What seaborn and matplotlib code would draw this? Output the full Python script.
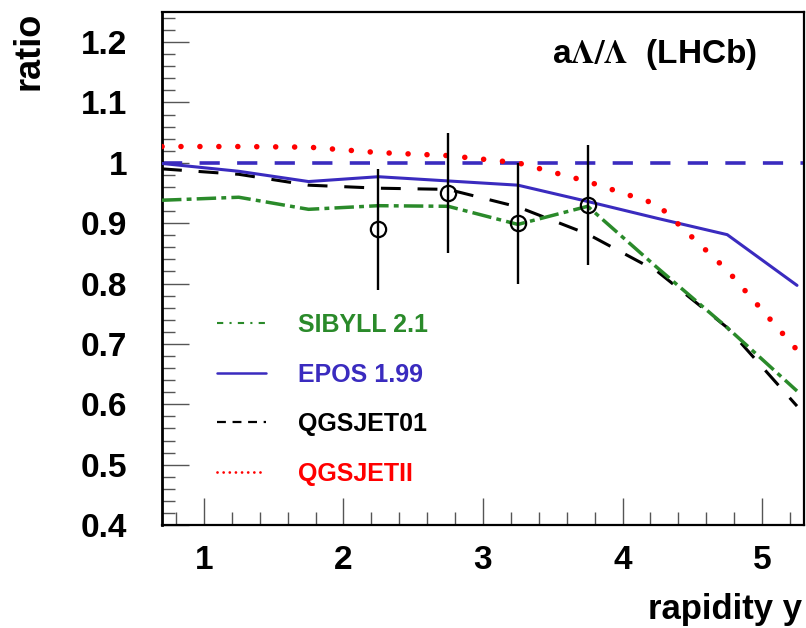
import matplotlib
matplotlib.use("Agg")
import matplotlib.pyplot as plt
from matplotlib.lines import Line2D
from matplotlib.ticker import MultipleLocator, FixedLocator
import seaborn as sns
import pandas as pd

# ---------------- data ----------------
rapidity = [0.7, 1.25, 1.75, 2.25, 2.75, 3.25, 3.75, 4.25, 4.75, 5.25]
sibyll = [0.938, 0.943, 0.923, 0.929, 0.928, 0.898, 0.928, 0.826, 0.727, 0.622]
epos = [0.999, 0.986, 0.969, 0.977, 0.970, 0.963, 0.936, 0.908, 0.881, 0.797]
qgsjet01 = [0.990, 0.981, 0.963, 0.958, 0.956, 0.927, 0.882, 0.820, 0.727, 0.597]
qgsjetii = [1.027, 1.027, 1.026, 1.017, 1.012, 1.000, 0.969, 0.931, 0.822, 0.690]

lhcb_y = [2.25, 2.75, 3.25, 3.75]
lhcb_ratio = [0.89, 0.95, 0.90, 0.93]
lhcb_err = [0.10, 0.10, 0.10, 0.10]

model_names = ["SIBYLL 2.1", "EPOS 1.99", "QGSJET01", "QGSJETII"]
x_ticks = [1, 2, 3, 4, 5]
x_ticklabels = ["1", "2", "3", "4", "5"]
y_ticks = [0.4, 0.5, 0.6, 0.7, 0.8, 0.9, 1.0, 1.1, 1.2]
y_ticklabels = ["0.4", "0.5", "0.6", "0.7", "0.8", "0.9", "1", "1.1", "1.2"]
reference_level = [1.0, 1.0]
reference_x = [0.7, 5.3]

# ---------------- style ----------------
sns.set_theme(style="white")
plt.rcParams["font.family"] = ["Liberation Sans", "DejaVu Sans"]
plt.rcParams["font.weight"] = "bold"
plt.rcParams["mathtext.fontset"] = "stix"
plt.rcParams["text.color"] = "black"
plt.rcParams["axes.labelcolor"] = "black"

GREEN = "#2a8a2a"
BLUE = "#3a2bbf"
BLACK = "#000000"
RED = "#ff0000"

fig = plt.figure(figsize=(8.06, 6.28), dpi=100)
ax = fig.add_axes([0.201, 0.164, 0.7965, 0.817])

df = pd.DataFrame({
    "y": rapidity * 4,
    "ratio": sibyll + epos + qgsjet01 + qgsjetii,
    "model": sum([[m] * len(rapidity) for m in model_names], []),
})

# reference line at 1
sns.lineplot(x=reference_x, y=reference_level, ax=ax, color=BLUE, linewidth=2.6,
             linestyle=(0, (5.6, 4.8)), zorder=1)

sub = df[df.model == "QGSJET01"]
sns.lineplot(data=sub, x="y", y="ratio", ax=ax, color=BLACK, linewidth=2.2,
             linestyle=(0, (6.5, 5.5)), zorder=2)
sub = df[df.model == "SIBYLL 2.1"]
sns.lineplot(data=sub, x="y", y="ratio", ax=ax, color=GREEN, linewidth=2.5,
             linestyle=(0, (5.6, 1.5, 1.4, 1.5)), zorder=3)
sub = df[df.model == "EPOS 1.99"]
sns.lineplot(data=sub, x="y", y="ratio", ax=ax, color=BLUE, linewidth=2.2, zorder=4)
sub = df[df.model == "QGSJETII"]
sns.lineplot(data=sub, x="y", y="ratio", ax=ax, color=RED, linewidth=4.0,
             linestyle=(0, (0.01, 3.4)), dash_capstyle="round", zorder=5)

ax.errorbar(lhcb_y, lhcb_ratio, yerr=lhcb_err, fmt="o", mfc="none", mec="black",
            ms=11, mew=1.6, ecolor="black", elinewidth=1.7, capsize=0, zorder=6)

# ---------------- axes ----------------
ax.set_xlim(0.7, 5.3)
ax.set_ylim(0.4, 1.25)
ax.xaxis.set_major_locator(FixedLocator(x_ticks))
ax.set_xticklabels(x_ticklabels)
ax.xaxis.set_minor_locator(MultipleLocator(0.2))
ax.yaxis.set_major_locator(FixedLocator(y_ticks))
ax.set_yticklabels(y_ticklabels)
ax.yaxis.set_minor_locator(MultipleLocator(0.02))

ax.tick_params(axis="both", which="both", direction="in", top=False, right=False,
               bottom=True, left=True, colors="#555555", labelcolor="black")
ax.tick_params(axis="y", which="major", length=19.5, width=1.0, pad=25, labelsize=24)
ax.tick_params(axis="y", which="minor", length=9.5, width=1.0)
ax.tick_params(axis="x", which="major", length=19.5, width=1.0, pad=14.5, labelsize=24)
ax.tick_params(axis="x", which="minor", length=9.5, width=1.0)
for lab in ax.get_xticklabels() + ax.get_yticklabels():
    lab.set_fontweight("bold")

for name, sp in ax.spines.items():
    sp.set_linewidth(2.0 if name == "left" else 1.6)
    sp.set_color("black")

ax.set_xlabel("rapidity y", fontsize=25, fontweight="bold", ha="right", color="black")
ax.xaxis.set_label_coords(0.997, -0.133)
ax.set_ylabel("ratio", fontsize=26, fontweight="bold", loc="top", color="black")
ax.yaxis.set_label_coords(-0.18, 1.0)

ax.text(0.927, 0.90, r"a$\Lambda/\Lambda$  (LHCb)", transform=ax.transAxes,
        ha="right", va="baseline", fontsize=24, fontweight="bold", color="black")

# ---------------- legend ----------------
handles = [
    Line2D([], [], color=GREEN, linewidth=1.5, linestyle=(0, (3, 3, 1, 3))),
    Line2D([], [], color=BLUE, linewidth=1.8),
    Line2D([], [], color=BLACK, linewidth=1.6, linestyle=(0, (4, 3))),
    Line2D([], [], color=RED, linewidth=2.0, linestyle=(0, (0.01, 2.2)),
           dash_capstyle="round"),
]
leg = ax.legend(handles, model_names, loc="upper left", bbox_to_anchor=(0.0857, 0.413),
                frameon=False, handlelength=1.95, handletextpad=1.3,
                labelspacing=1.02, borderpad=0, borderaxespad=0,
                prop={"weight": "bold", "size": 18})
for txt, col in zip(leg.get_texts(), [GREEN, BLUE, BLACK, RED]):
    txt.set_color(col)

fig.savefig("out.png", dpi=100, facecolor="white")
